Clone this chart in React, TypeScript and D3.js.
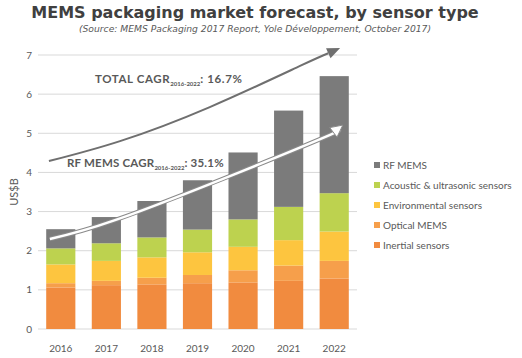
import { useEffect, useRef } from 'react';
import * as d3 from 'd3';

const years = ['2016', '2017', '2018', '2019', '2020', '2021', '2022'];
const inertial = [1.06, 1.12, 1.14, 1.17, 1.19, 1.23, 1.29];
const optical = [0.11, 0.11, 0.17, 0.21, 0.31, 0.39, 0.45];
const environmental = [0.48, 0.51, 0.52, 0.58, 0.6, 0.65, 0.75];
const acoustic = [0.41, 0.45, 0.51, 0.58, 0.7, 0.85, 0.98];
const rfMems = [0.49, 0.67, 0.93, 1.26, 1.71, 2.46, 2.99];

const seriesNames = ['Inertial sensors', 'Optical MEMS', 'Environmental sensors', 'Acoustic & ultrasonic sensors', 'RF MEMS'];
const seriesColors = ['#f18b3f', '#f69f4b', '#fdc53f', '#bdd24f', '#7b7b7b'];
const yTicks = [0, 1, 2, 3, 4, 5, 6, 7];

// annotation arrows, in (year, US$B)
const totalArrow: [number, number][] = [[2015.74, 4.29], [2017.3, 4.8], [2019.27, 5.67], [2021.25, 6.72], [2022.13, 7.18]];
const rfArrow: [number, number][] = [[2015.76, 2.3], [2017.19, 2.78], [2019.93, 4.01], [2021.91, 4.96], [2022.19, 5.21]];

export default function App() {
  const svgRef = useRef<SVGSVGElement>(null);

  useEffect(() => {
    const svg = d3.select(svgRef.current);
    svg.selectAll('*').remove();

    const W = 522, H = 358;
    const left = 38, right = 357, top = 55, bottom = 329;
    const gill = 'Lato, "Open Sans", sans-serif';
    const txt = '#595959';

    svg.attr('width', W).attr('height', H).attr('viewBox', `0 0 ${W} ${H}`);

    const x = d3.scaleBand<string>().domain(years).range([left, right]).paddingInner(0.36).paddingOuter(0.18);
    const y = d3.scaleLinear().domain([0, 7]).range([bottom, top]);
    const xYear = d3.scaleLinear().domain([2016, 2022])
      .range([x('2016')! + x.bandwidth() / 2, x('2022')! + x.bandwidth() / 2]);

    // Title
    svg.append('text').attr('x', 255).attr('y', 18).attr('text-anchor', 'middle')
      .attr('font-family', '"DejaVu Sans", Verdana, sans-serif').attr('font-weight', 'bold')
      .attr('font-size', 16).attr('fill', '#404040')
      .text('MEMS packaging market forecast, by sensor type');
    svg.append('text').attr('x', 255).attr('y', 32).attr('text-anchor', 'middle')
      .attr('font-family', '"DejaVu Sans", Verdana, sans-serif').attr('font-style', 'italic')
      .attr('font-size', 9.2).attr('fill', txt)
      .text('(Source: MEMS Packaging 2017 Report, Yole Développement, October 2017)');

    // Gridlines + y ticks
    yTicks.forEach(t => {
      svg.append('line').attr('x1', left).attr('x2', right).attr('y1', y(t)).attr('y2', y(t))
        .attr('stroke', '#d9d9d9').attr('stroke-width', 1);
      svg.append('text').attr('x', 32).attr('y', y(t) + 3.5).attr('text-anchor', 'end')
        .attr('font-family', gill).attr('font-size', 10).attr('fill', txt).text(t);
    });

    svg.append('text').attr('transform', `translate(18,${(top + bottom) / 2}) rotate(-90)`)
      .attr('text-anchor', 'middle').attr('font-family', gill).attr('font-size', 11).attr('fill', txt)
      .text('US$B');

    // Stacked bars
    const rows = years.map((yr, i) => ({
      year: yr, s0: inertial[i], s1: optical[i], s2: environmental[i], s3: acoustic[i], s4: rfMems[i],
    }));
    const stack = d3.stack<any>().keys(['s0', 's1', 's2', 's3', 's4'])(rows);
    stack.forEach((layer, li) => {
      svg.append('g').selectAll('rect').data(layer).join('rect')
        .attr('x', d => x(d.data.year)!)
        .attr('width', x.bandwidth())
        .attr('y', d => y(d[1]))
        .attr('height', d => y(d[0]) - y(d[1]))
        .attr('fill', seriesColors[li]);
    });

    // x labels
    years.forEach(yr => {
      svg.append('text').attr('x', x(yr)! + x.bandwidth() / 2).attr('y', 352).attr('text-anchor', 'middle')
        .attr('font-family', gill).attr('font-size', 10).attr('fill', txt).text(yr);
    });

    const line = d3.line<[number, number]>().x(d => xYear(d[0])).y(d => y(d[1])).curve(d3.curveNatural);

    const head = (pts: [number, number][], len: number, half: number) => {
      const p = pts.map(d => [xYear(d[0]), y(d[1])]);
      const [tx, ty] = p[p.length - 1];
      const [px, py] = p[p.length - 2];
      const a = Math.atan2(ty - py, tx - px);
      const bx = tx - len * Math.cos(a), by = ty - len * Math.sin(a);
      const nx = -Math.sin(a) * half, ny = Math.cos(a) * half;
      return { base: [bx, by], poly: `${tx},${ty} ${bx + nx},${by + ny} ${bx - nx},${by - ny}` };
    };

    // Total arrow (grey)
    const th = head(totalArrow, 13, 5.5);
    const totalPts = totalArrow.slice(0, -1).concat([[xYear.invert(th.base[0]), y.invert(th.base[1])]]);
    svg.append('path').datum(totalPts).attr('d', line).attr('fill', 'none')
      .attr('stroke', '#6f6f6f').attr('stroke-width', 2);
    svg.append('polygon').attr('points', th.poly).attr('fill', '#6f6f6f');

    // RF arrow (white, outlined)
    const rh = head(rfArrow, 12, 6);
    const rfPts = rfArrow.slice(0, -1).concat([[xYear.invert(rh.base[0]), y.invert(rh.base[1])]]);
    svg.append('path').datum(rfPts).attr('d', line).attr('fill', 'none')
      .attr('stroke', '#8a8a8a').attr('stroke-width', 4.5);
    svg.append('path').datum(rfPts).attr('d', line).attr('fill', 'none')
      .attr('stroke', '#ffffff').attr('stroke-width', 2.5);
    svg.append('polygon').attr('points', rh.poly).attr('fill', '#ffffff')
      .attr('stroke', '#8a8a8a').attr('stroke-width', 1);

    // CAGR labels
    const cagr = (px: number, py: number, lead: string, val: string, ls: number) => {
      const t = svg.append('text').attr('x', px).attr('y', py)
        .attr('font-family', gill).attr('font-weight', 'bold').attr('font-size', 11.5)
        .attr('fill', txt).attr('letter-spacing', ls);
      t.append('tspan').text(lead);
      t.append('tspan').attr('dy', 3).attr('font-size', 6).attr('letter-spacing', 0).text('2016-2022');
      t.append('tspan').attr('dy', -3).text(`: ${val}`);
    };
    cagr(95, 83, 'TOTAL CAGR', '16.7%', 0.6);
    cagr(67, 167, 'RF MEMS CAGR', '35.1%', 0.2);

    // Legend
    const legendOrder = [4, 3, 2, 1, 0];
    legendOrder.forEach((si, i) => {
      const ly = 165 + i * 20;
      svg.append('rect').attr('x', 374).attr('y', ly - 3).attr('width', 6).attr('height', 6)
        .attr('fill', seriesColors[si]);
      svg.append('text').attr('x', 383).attr('y', ly + 3.5)
        .attr('font-family', gill).attr('font-size', 10).attr('fill', txt).text(seriesNames[si]);
    });
  }, []);

  return (
    <svg ref={svgRef} style={{ position: 'absolute', left: 0, top: 0, background: '#fff' }} />
  );
}
